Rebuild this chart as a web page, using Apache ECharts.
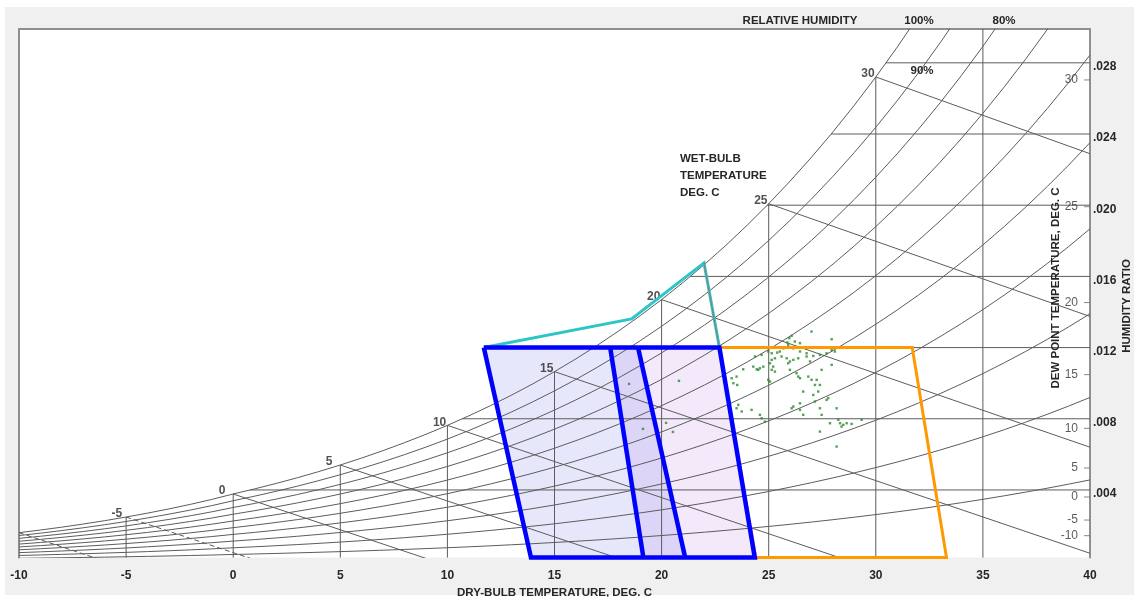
<!DOCTYPE html>
<html>
<head>
<meta charset="utf-8">
<script src="https://cdn.jsdelivr.net/npm/echarts@6/dist/echarts.min.js"></script>
<style>
  html, body { margin: 0; padding: 0; background: #ffffff; }
  #chart { width: 1134px; height: 597px; }
</style>
</head>
<body>
<div id="chart"></div>
<script>
// ---- Psychrometric reference data ----
// Saturation vapour pressure (kPa) at each whole degree, -10 .. 40 °C
const satStartTemp = -10;
const satPressure = [
  0.2600, 0.2842, 0.3104, 0.3386, 0.3691, 0.4022, 0.4377, 0.4760, 0.5173, 0.5619,
  0.6112, 0.6571, 0.7060, 0.7580, 0.8135, 0.8725, 0.9353, 1.0020, 1.0729, 1.1481,
  1.2280, 1.3128, 1.4026, 1.4979, 1.5987, 1.7055, 1.8185, 1.9380, 2.0643, 2.1979,
  2.3389, 2.4878, 2.6448, 2.8105, 2.9852, 3.1693, 3.3633, 3.5674, 3.7823, 4.0084,
  4.2462, 4.4961, 4.7586, 5.0345, 5.3242, 5.6280, 5.9468, 6.2812, 6.6315, 6.9987,
  7.3835
];
const barometric = 101.325;            // kPa, sea level

// Chart grid values
const xTicksMin = -10, xTicksMax = 40, xTickStep = 5;
const yFloor = 0.0002, yCeil = 0.0299;  // humidity ratio range shown
const rhLevels = [10, 20, 30, 40, 50, 60, 70, 80, 90, 100];
const wetBulbTemps = [-10, -5, 0, 5, 10, 15, 20, 25, 30];
const wetBulbLabels = ['-5', '0', '5', '10', '15', '20', '25', '30'];
const dashedWetBulb = [-10, -5];
const dryBulbLines = [-5, 0, 5, 10, 15, 20, 25, 30, 35];
const humidityTicks = [0.004, 0.008, 0.012, 0.016, 0.020, 0.024, 0.028];
const dewPointTicks = [-10, -5, 0, 5, 10, 15, 20, 25, 30];

// Design zones: [dry-bulb °C, humidity ratio]
const zoneCoolA = [[11.7, 0.012], [17.6, 0.012], [19.15, yFloor], [13.9, yFloor]];
const zoneCoolB = [[17.6, 0.012], [18.9, 0.012], [21.1, yFloor], [19.15, yFloor]];
const zoneCoolC = [[18.9, 0.012], [22.7, 0.012], [24.35, yFloor], [21.1, yFloor]];
const zoneOutline = [[11.7, 0.012], [22.7, 0.012], [24.35, yFloor], [13.9, yFloor], [11.7, 0.012]];
const zoneDivider1 = [[17.6, 0.012], [19.15, yFloor]];
const zoneDivider2 = [[18.9, 0.012], [21.1, yFloor]];
const warmZone = [[22.7, 0.012], [31.7, 0.012], [33.3, yFloor], [24.35, yFloor]];
const upperBound = [[11.7, 0.012], [18.6, 0.01361], [21.98, 0.01676], [22.7, 0.012]];
const limitLine = [[21.98, 0.01676], [24.45, yFloor]];

// Measured conditions [dry-bulb °C, humidity ratio]
const readings = [
  [25.96,0.01253],[26.07,0.01266],[25.87,0.01229],[26.22,0.01234],[26.46,0.01225],[27.00,0.01290],
  [27.94,0.01247],[27.94,0.01187],[28.09,0.01178],[27.70,0.01168],[27.39,0.01159],[27.08,0.01153],
  [26.77,0.01168],[26.46,0.01178],[26.15,0.01196],[25.91,0.01215],[25.68,0.01196],[25.40,0.01172],
  [25.14,0.01168],[24.98,0.01178],[24.67,0.01159],[24.36,0.01150],[24.28,0.01093],[24.51,0.01075],
  [24.59,0.01084],[24.75,0.01093],[24.44,0.01078],[23.81,0.01078],[23.50,0.01037],[23.27,0.01028],
  [23.35,0.01000],[23.53,0.00990],[24.98,0.01019],[25.06,0.01009],[25.14,0.01075],[25.29,0.01065],
  [25.14,0.01131],[25.29,0.01140],[25.60,0.01150],[25.84,0.01140],[25.99,0.01122],[25.91,0.01112],
  [26.15,0.01131],[26.38,0.01140],[26.77,0.01150],[26.93,0.01122],[25.99,0.01075],[26.30,0.01056],
  [26.46,0.01028],[26.38,0.01037],[26.85,0.01037],[27.00,0.01019],[27.24,0.01019],[27.16,0.00990],
  [27.39,0.00990],[26.61,0.00953],[27.08,0.00934],[27.31,0.00953],[27.70,0.00906],[27.78,0.00916],
  [27.16,0.00897],[26.46,0.00887],[26.15,0.00869],[26.07,0.00859],[26.46,0.00850],[27.39,0.00859],
  [28.17,0.00859],[27.94,0.01103],[27.47,0.01075],[28.25,0.00794],[28.33,0.00775],[28.40,0.00756],
  [28.48,0.00766],[28.64,0.00775],[28.87,0.00771],[29.34,0.00794],[27.86,0.00775],[27.39,0.00728],
  [28.17,0.00644],[23.58,0.00878],[23.74,0.00841],[24.20,0.00850],[24.59,0.00822],[24.67,0.00803],
  [24.82,0.00784],[26.61,0.00822],[27.47,0.00822],[23.50,0.00859],[25.52,0.01178],[25.06,0.01112],
  [25.21,0.01093],[18.48,0.00996],[20.81,0.01013],[19.13,0.00743],[20.21,0.00777],[20.53,0.00726]
];

// ---- Psychrometric relations ----
const ratioFromPressure = p => 0.622 * p / (barometric - p);
const satAt = T => satPressure[T - satStartTemp];
const satRatio = T => ratioFromPressure(satAt(T));
function dewPointOf(w) {
  const p = w * barometric / (0.622 + w);
  for (let i = 0; i < satPressure.length - 1; i++) {
    if (p <= satPressure[i + 1]) {
      const f = (p - satPressure[i]) / (satPressure[i + 1] - satPressure[i]);
      return satStartTemp + i + f;
    }
  }
  return xTicksMax;
}

// ---- Styles ----
const gridGrey = '#5c5c5c';
const inkColor = '#262626';
const labelFont = '"Liberation Sans", Arial, sans-serif';

function greyLine(data, dashed) {
  return {
    type: 'line', data, symbol: 'none', silent: true, clip: true, z: 2,
    lineStyle: { color: gridGrey, width: 1, type: dashed ? [5, 3] : 'solid' },
    animation: false
  };
}
function zoneFill(points, color) {
  return {
    type: 'custom', silent: true, z: 1, clip: true, animation: false,
    data: [points[0]],
    renderItem: (params, api) => ({
      type: 'polygon',
      shape: { points: points.map(p => api.coord(p)) },
      style: { fill: color }
    })
  };
}
function strokeLine(data, color, width, z, type) {
  return {
    type: 'line', data, symbol: 'none', silent: true, clip: false, z,
    lineStyle: { color, width, type: type || 'solid', join: 'miter' }, animation: false
  };
}

const series = [];

// zone fills
series.push(zoneFill(zoneCoolA, '#e7e7fb'));
series.push(zoneFill(zoneCoolB, '#dcd5f7'));
series.push(zoneFill(zoneCoolC, '#f3e9fb'));

// relative humidity curves
const satTempsAll = satPressure.map((_, i) => satStartTemp + i);
rhLevels.forEach(rh => {
  const phi = rh / 100;
  series.push(greyLine(satTempsAll.map((T, i) => [T, ratioFromPressure(phi * satPressure[i])])));
});

// wet-bulb lines
wetBulbTemps.forEach(twb => {
  const ws = satRatio(twb);
  const hfg = 2501 - 2.326 * twb;
  let tEnd = twb + hfg * ws / 1.006, wEnd = 0;
  if (tEnd > xTicksMax) {
    tEnd = xTicksMax;
    wEnd = (hfg * ws - 1.006 * (tEnd - twb)) / (2501 + 1.86 * tEnd - 4.186 * twb);
  }
  series.push(greyLine([[twb, ws], [tEnd, wEnd]], dashedWetBulb.includes(twb)));
});

// dry-bulb verticals
dryBulbLines.forEach(T => {
  series.push(greyLine([[T, yFloor], [T, Math.min(satRatio(T), yCeil)]]));
});

// humidity-ratio horizontals
humidityTicks.forEach(w => {
  series.push(greyLine([[dewPointOf(w), w], [xTicksMax, w]]));
});

// wet-bulb temperature labels on the saturation curve
series.push({
  type: 'scatter', silent: true, clip: false, z: 3, animation: false,
  symbolSize: 1, itemStyle: { color: 'rgba(0,0,0,0)' },
  data: wetBulbLabels.map(t => [Number(t), satRatio(Number(t))]),
  label: {
    show: true, position: [-14, -2.5], align: 'left', verticalAlign: 'middle',
    formatter: p => wetBulbLabels[p.dataIndex],
    fontFamily: labelFont, fontSize: 12, fontWeight: 'bold', color: inkColor
  }
});

// dew point scale along the right edge
series.push({
  type: 'scatter', silent: true, clip: false, z: 3, animation: false,
  symbol: 'rect', symbolSize: [6, 1], symbolOffset: [-3, 3],
  itemStyle: { color: '#6a6a6a' },
  data: dewPointTicks.map(t => [xTicksMax, satRatio(t)]),
  label: {
    show: true, position: 'left', distance: 6,
    formatter: p => String(dewPointTicks[p.dataIndex]),
    fontFamily: labelFont, fontSize: 12, color: '#333333'
  }
});

// measured readings
series.push({
  type: 'scatter', silent: true, z: 4, animation: false,
  symbol: 'rect', symbolSize: 2.4, itemStyle: { color: '#2a8a2a' },
  data: readings
});

// zone outlines
series.push(strokeLine(warmZone.concat([warmZone[0]]), '#ff9900', 3, 5));
series.push(strokeLine(upperBound, '#2cc6c6', 3, 6));
series.push(strokeLine(limitLine, '#ff2a2a', 1, 6, 'dotted'));
series.push(strokeLine(zoneOutline, '#0000ff', 4.5, 7));
series.push(strokeLine(zoneDivider1, '#0000ff', 4.5, 7));
series.push(strokeLine(zoneDivider2, '#0000ff', 4.5, 7));

const frameLine = { show: true, onZero: false, lineStyle: { color: '#8f8f8f', width: 2 } };

const option = {
  backgroundColor: '#ffffff',
  animation: false,
  grid: {
    left: 19, right: 44, top: 29, bottom: 39.4,
    outerBoundsMode: 'none', containLabel: false,
    show: true, backgroundColor: '#ffffff', borderWidth: 0
  },
  xAxis: [
    {
      type: 'value', position: 'bottom', min: xTicksMin, max: xTicksMax, interval: xTickStep,
      axisLine: { show: false, onZero: false }, axisTick: { show: false }, splitLine: { show: false },
      axisLabel: { margin: 12, fontFamily: labelFont, fontSize: 12, fontWeight: 'bold', color: inkColor, showMinLabel: true, showMaxLabel: true },
      name: 'DRY-BULB TEMPERATURE, DEG. C', nameLocation: 'middle', nameGap: 26,
      nameTextStyle: { fontFamily: labelFont, fontSize: 11.5, fontWeight: 'bold', color: inkColor }
    },
    {
      type: 'value', position: 'top', min: xTicksMin, max: xTicksMax,
      axisLine: frameLine, axisTick: { show: false }, axisLabel: { show: false }, splitLine: { show: false }
    }
  ],
  yAxis: [
    {
      type: 'value', position: 'right', min: yFloor, max: yCeil,
      axisLine: frameLine, axisTick: { show: false }, splitLine: { show: false },
      axisLabel: {
        customValues: humidityTicks, margin: 3, verticalAlign: 'top', lineHeight: 8,
        formatter: v => '.' + String(Math.round(v * 1000)).padStart(3, '0'),
        fontFamily: labelFont, fontSize: 12, fontWeight: 'bold', color: inkColor
      }
    },
    {
      type: 'value', position: 'left', min: yFloor, max: yCeil,
      axisLine: frameLine, axisTick: { show: false }, axisLabel: { show: false }, splitLine: { show: false }
    }
  ],
  graphic: [
    { type: 'rect', z: -10, silent: true, shape: { x: 5, y: 7, width: 1129, height: 588 }, style: { fill: '#f0f0f0' } },
    { type: 'text', silent: true, x: 800, y: 21, style: { text: 'RELATIVE HUMIDITY', font: 'bold 11.5px ' + labelFont, fill: inkColor, align: 'center', verticalAlign: 'middle' } },
    { type: 'text', silent: true, x: 919, y: 21, style: { text: '100%', font: 'bold 11.5px ' + labelFont, fill: inkColor, align: 'center', verticalAlign: 'middle' } },
    { type: 'text', silent: true, x: 1004, y: 21, style: { text: '80%', font: 'bold 11.5px ' + labelFont, fill: inkColor, align: 'center', verticalAlign: 'middle' } },
    { type: 'text', silent: true, z: 10, x: 922, y: 71, style: { text: '90%', font: 'bold 11.5px ' + labelFont, fill: inkColor, align: 'center', verticalAlign: 'middle' } },
    { type: 'text', silent: true, z: 10, x: 680, y: 159, style: { text: 'WET-BULB', font: 'bold 11.5px ' + labelFont, fill: inkColor, align: 'left', verticalAlign: 'middle' } },
    { type: 'text', silent: true, z: 10, x: 680, y: 176, style: { text: 'TEMPERATURE', font: 'bold 11.5px ' + labelFont, fill: inkColor, align: 'left', verticalAlign: 'middle' } },
    { type: 'text', silent: true, z: 10, x: 680, y: 193, style: { text: 'DEG. C', font: 'bold 11.5px ' + labelFont, fill: inkColor, align: 'left', verticalAlign: 'middle' } },
    { type: 'text', silent: true, z: 10, x: 1056, y: 288, rotation: Math.PI / 2, style: { text: 'DEW POINT TEMPERATURE, DEG. C', font: 'bold 11.5px ' + labelFont, fill: inkColor, align: 'center', verticalAlign: 'middle' } },
    { type: 'text', silent: true, z: 10, x: 1127, y: 306, rotation: Math.PI / 2, style: { text: 'HUMIDITY RATIO', font: 'bold 11.5px ' + labelFont, fill: inkColor, align: 'center', verticalAlign: 'middle' } }
  ],
  series: series.map(s => Object.assign({ xAxisIndex: 0, yAxisIndex: 0 }, s))
};

const chart = echarts.init(document.getElementById('chart'), null, { renderer: 'canvas' });
chart.setOption(option);
</script>
</body>
</html>
